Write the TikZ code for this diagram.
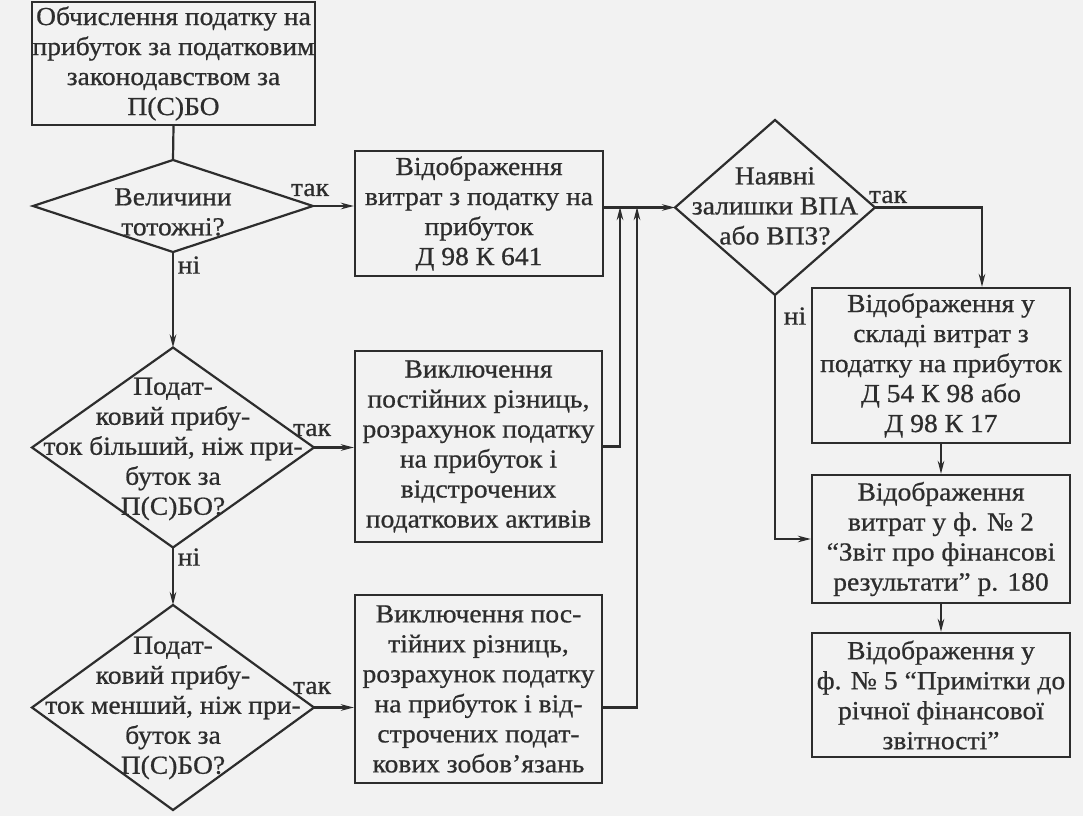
\documentclass[tikz,border=0pt]{standalone}
\usepackage{fontspec}
\setmainfont{Liberation Serif}[FakeStretch=1.06,FakeBold=0.7]
\usetikzlibrary{shapes.geometric,arrows.meta}
\definecolor{ink}{RGB}{45,45,45}
\definecolor{paper}{RGB}{242,242,242}
\begin{document}
\begin{tikzpicture}[x=1pt,y=-1pt,
  every node/.style={text=ink, font=\fontsize{26}{30}\selectfont},
  box/.style={draw=ink, line width=2.2pt, rectangle, inner sep=0pt, align=center},
  dia/.style={draw=ink, line width=2.2pt, diamond, inner sep=0pt, outer sep=0pt},
  dtext/.style={align=center, inner sep=0pt},
  lbl/.style={inner sep=0pt},
  ln/.style={draw=ink, line width=2.2pt},
  arr/.style={ln, -{Stealth[length=13pt,width=6.5pt]}}]
\fill[paper] (0,0) rectangle (1083,816);
\useasboundingbox (0,0) rectangle (1083,816);

% left column
\node[box, minimum width=283pt, minimum height=123pt] (b1) at (173.5,63.5)
  {Обчислення податку на\\прибуток за податковим\\законодавством за\\П(С)БО};
\node[dia, minimum width=280pt, minimum height=92pt] (d1) at (173,206) {};
\node[dtext] at (173,212) {Величини\\тотожні?};
\node[dia, minimum width=282pt, minimum height=200pt] (d2) at (173,447.5) {};
\node[dtext] at (173,449) {Подат-\\ковий прибу-\\ток більший, ніж при-\\буток за\\П(С)БО?};
\node[dia, minimum width=282pt, minimum height=205pt] (d3) at (173,707.5) {};
\node[dtext] at (173,708) {Подат-\\ковий прибу-\\ток менший, ніж при-\\буток за\\П(С)БО?};

% middle column
\node[box, minimum width=248pt, minimum height=125pt] (b2) at (479,213.5)
  {Відображення\\витрат з податку на\\прибуток\\Д 98 К 641};
\node[box, minimum width=247pt, minimum height=191pt] (b3) at (478.5,446.5)
  {Виключення\\постійних різниць,\\розрахунок податку\\на прибуток і\\відстрочених\\податкових активів};
\node[box, minimum width=247pt, minimum height=188pt] (b4) at (478.5,689)
  {Виключення пос-\\тійних різниць,\\розрахунок податку\\на прибуток і від-\\строчених подат-\\кових зобов’язань};

% right column
\node[dia, minimum width=200pt, minimum height=175pt] (d4) at (775,207.5) {};
\node[dtext] at (775,206) {Наявні\\залишки ВПА\\або ВПЗ?};
\node[box, minimum width=258pt, minimum height=155pt] (b5) at (941,365.5)
  {Відображення у\\складі витрат з\\податку на прибуток\\Д 54 К 98 або\\Д 98 К 17};
\node[box, minimum width=258pt, minimum height=128pt] (b6) at (941,539)
  {Відображення\\витрат у ф. № 2\\“Звіт про фінансові\\результати” р. 180};
\node[box, minimum width=258pt, minimum height=124pt] (b7) at (941,695)
  {Відображення у\\ф. № 5 “Примітки до\\річної фінансової\\звітності”};

% labels
\node[lbl] at (310,190) {так};
\node[lbl] at (189,265) {ні};
\node[lbl] at (312,430) {так};
\node[lbl] at (189,557) {ні};
\node[lbl] at (312,688) {так};
\node[lbl] at (888,197) {так};
\node[lbl] at (795,316) {ні};

% merge points
\coordinate (m3) at (620,207);
\coordinate (m4) at (637,207);

% connectors
\draw[ln] (b1.south) -- (d1.north);
\draw[arr] (d1.east) -- (d1.east -| b2.west);
\draw[arr] (d1.south) -- (d2.north);
\draw[arr] (d2.east) -- (d2.east -| b3.west);
\draw[arr] (d2.south) -- (d3.north);
\draw[arr] (d3.east) -- (d3.east -| b4.west);
\draw[arr] (b2.east |- d4.west) -- (d4.west);
\draw[arr] (b3.east) -| (m3);
\draw[arr] (b4.east |- d3.east) -| (m4);
\draw[arr] (d4.east) -| ([xshift=41pt]b5.north);
\draw[arr] (d4.south) |- (b6.west);
\draw[arr] (b5) -- (b6);
\draw[arr] (b6) -- (b7);
\end{tikzpicture}
\end{document}
